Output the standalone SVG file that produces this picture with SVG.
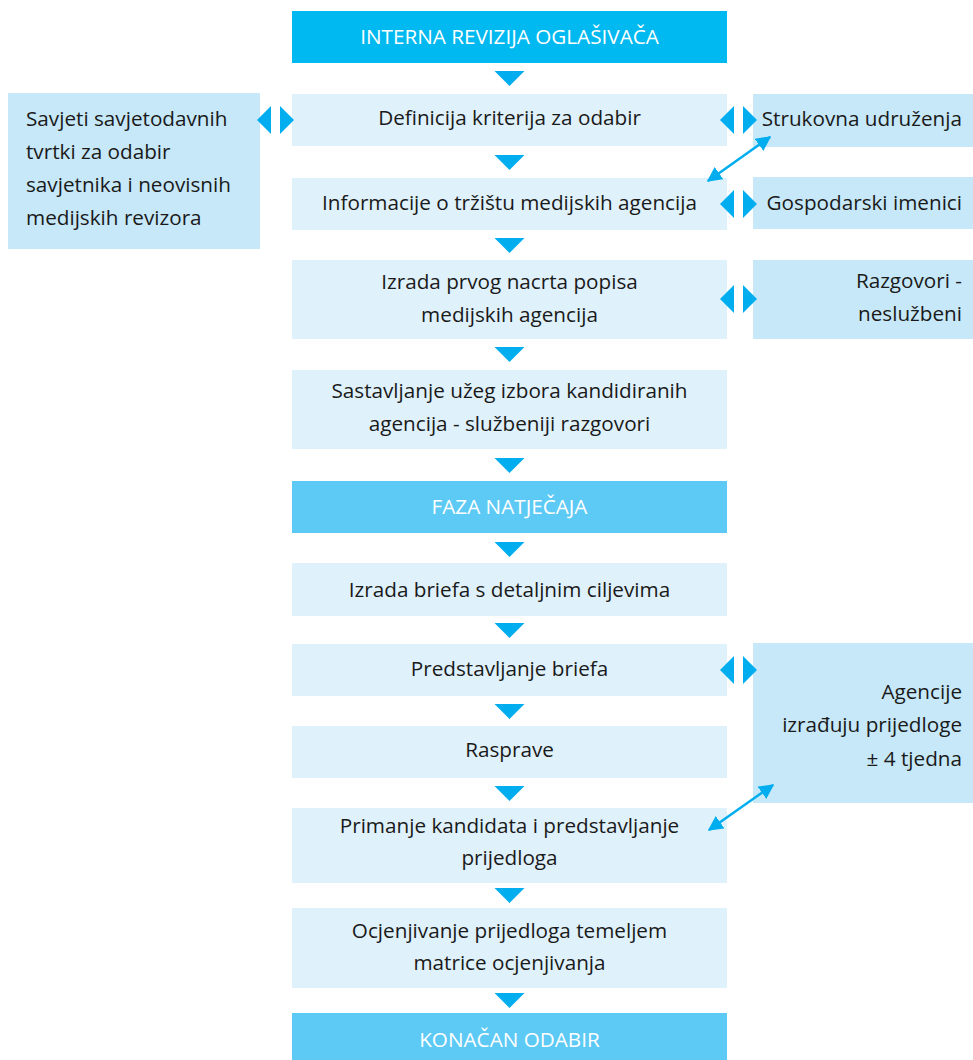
<svg xmlns="http://www.w3.org/2000/svg" width="973" height="1060" viewBox="0 0 973 1060">
<style>
.hdr{fill:#00B9F0}
.hdr2{fill:#5DC9F5}
.box{fill:#DFF1FB}
.side{fill:#C6E8F8}
.tri{fill:#00AEEF}
text{font-family:"Open Sans","Liberation Sans",sans-serif;font-size:20.7px;fill:#1a1a1a}
.ht{fill:#ffffff;font-size:20.7px}
.c{text-anchor:middle}
.r{text-anchor:end}
.conn{stroke:#00AEEF;stroke-width:2.5;fill:none}
</style>
<defs>
<marker id="ah" viewBox="0 0 10 10" refX="9" refY="5" markerWidth="6" markerHeight="6" orient="auto-start-reverse" markerUnits="strokeWidth">
<path d="M0,0 L10,5 L0,10 z" fill="#00AEEF"/>
</marker>
<g id="dn"><path d="M-15,0 L15,0 L0,15 z" class="tri"/></g>
<g id="lr"><path d="M-18,0 L-4,-14 L-4,14 z" class="tri"/><path d="M19,0 L5,-14 L5,14 z" class="tri"/></g>
</defs>

<g id="n-interna"><rect x="292" y="11" width="435" height="52" class="hdr"/><text x="509.5" y="44" class="c ht">INTERNA REVIZIJA OGLAŠIVAČA</text></g>
<g id="n-definicija"><rect x="292" y="94" width="435" height="52" class="box"/><text x="509.5" y="125" class="c">Definicija kriterija za odabir</text></g>
<g id="n-informacije"><rect x="292" y="178" width="435" height="52" class="box"/><text x="509.5" y="210" class="c">Informacije o tržištu medijskih agencija</text></g>
<g id="n-izrada-prvog"><rect x="292" y="260" width="435" height="79" class="box"/><text x="509.5" y="289" class="c">Izrada prvog nacrta popisa</text><text x="509.5" y="322" class="c">medijskih agencija</text></g>
<g id="n-sastavljanje"><rect x="292" y="370" width="435" height="79" class="box"/><text x="509.5" y="398" class="c">Sastavljanje užeg izbora kandidiranih</text><text x="509.5" y="431" class="c">agencija - službeniji razgovori</text></g>
<g id="n-faza"><rect x="292" y="481" width="435" height="52" class="hdr2"/><text x="509.5" y="514" class="c ht">FAZA NATJEČAJA</text></g>
<g id="n-brief"><rect x="292" y="563" width="435" height="53" class="box"/><text x="509.5" y="597" class="c">Izrada briefa s detaljnim ciljevima</text></g>
<g id="n-predstavljanje"><rect x="292" y="644" width="435" height="52" class="box"/><text x="509.5" y="676" class="c">Predstavljanje briefa</text></g>
<g id="n-rasprave"><rect x="292" y="726" width="435" height="52" class="box"/><text x="509.5" y="757" class="c">Rasprave</text></g>
<g id="n-primanje"><rect x="292" y="808" width="435" height="75" class="box"/><text x="509.5" y="833" class="c">Primanje kandidata i predstavljanje</text><text x="509.5" y="865" class="c">prijedloga</text></g>
<g id="n-ocjenjivanje"><rect x="292" y="908" width="435" height="80" class="box"/><text x="509.5" y="938" class="c">Ocjenjivanje prijedloga temeljem</text><text x="509.5" y="970" class="c">matrice ocjenjivanja</text></g>
<g id="n-konacan"><rect x="292" y="1013" width="435" height="47" class="hdr2"/><text x="509.5" y="1047" class="c ht">KONAČAN ODABIR</text></g>

<g id="n-savjeti"><rect x="8" y="93" width="252" height="156" class="side"/><text x="26" y="126">Savjeti savjetodavnih</text><text x="26" y="159">tvrtki za odabir</text><text x="26" y="192">savjetnika i neovisnih</text><text x="26" y="225">medijskih revizora</text></g>
<g id="n-strukovna"><rect x="753" y="94" width="220" height="53" class="side"/><text x="962" y="126" class="r">Strukovna udruženja</text></g>
<g id="n-gospodarski"><rect x="753" y="177" width="220" height="52" class="side"/><text x="962" y="210" class="r">Gospodarski imenici</text></g>
<g id="n-razgovori"><rect x="753" y="260" width="220" height="79" class="side"/><text x="962" y="288" class="r">Razgovori -</text><text x="962" y="321" class="r">neslužbeni</text></g>
<g id="n-agencije"><rect x="753" y="643" width="220" height="160" class="side"/><text x="962" y="699" class="r">Agencije</text><text x="962" y="732" class="r">izrađuju prijedloge</text><text x="962" y="766" class="r">± 4 tjedna</text></g>

<g id="connectors">
<use href="#dn" x="509.5" y="71"/>
<use href="#dn" x="509.5" y="155"/>
<use href="#dn" x="509.5" y="238"/>
<use href="#dn" x="509.5" y="347"/>
<use href="#dn" x="509.5" y="458"/>
<use href="#dn" x="509.5" y="542"/>
<use href="#dn" x="509.5" y="623"/>
<use href="#dn" x="509.5" y="704"/>
<use href="#dn" x="509.5" y="786"/>
<use href="#dn" x="509.5" y="888"/>
<use href="#dn" x="509.5" y="993"/>
<use href="#lr" x="275" y="120"/>
<use href="#lr" x="738" y="120"/>
<use href="#lr" x="738" y="204"/>
<use href="#lr" x="738" y="299"/>
<use href="#lr" x="738" y="670"/>
<line x1="708" y1="181" x2="770" y2="137" class="conn" marker-start="url(#ah)" marker-end="url(#ah)"/>
<line x1="709" y1="830" x2="773" y2="785" class="conn" marker-start="url(#ah)" marker-end="url(#ah)"/>
</g>
</svg>
